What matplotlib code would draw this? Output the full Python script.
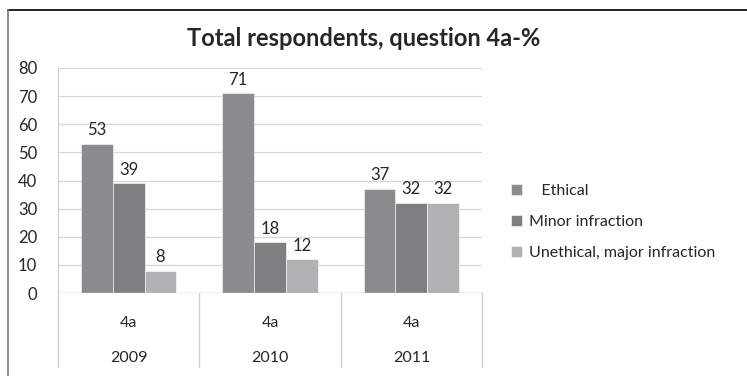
import matplotlib
matplotlib.use("Agg")
import matplotlib.pyplot as plt
import matplotlib.transforms as mtransforms
from matplotlib.lines import Line2D
import numpy as np

plt.rcParams['font.family'] = ['Lato', 'DejaVu Sans']

years = ['2009', '2010', '2011']
question = ['4a', '4a', '4a']
series_names = ['Ethical', 'Minor infraction', 'Unethical, major infraction']
ethical = [53, 71, 37]
minor = [39, 18, 32]
unethical = [8, 12, 32]
yticks = [0, 10, 20, 30, 40, 50, 60, 70, 80]

colors = ['#8b8b8e', '#7f7f82', '#b1b1b4']
text_color = '#262626'

W, H = 747, 376
fig = plt.figure(figsize=(W / 100, H / 100), dpi=100)

# outer chart frame
fig.add_artist(Line2D([8 / W, 1.0], [1 - 10 / H] * 2, color='#222222', lw=1.4,
                      transform=fig.transFigure))
fig.add_artist(Line2D([8 / W, 8 / W], [0, 1 - 10 / H], color='#7a7a7a', lw=1.2,
                      transform=fig.transFigure))

ax = fig.add_axes([58 / W, 83 / H, (482 - 58) / W, 225 / H])

x = np.arange(len(years)) + 0.5
bw = 0.225
values = [ethical, minor, unethical]
for i, (vals, c, name) in enumerate(zip(values, colors, series_names)):
    label = '   ' + name if i == 0 else name
    b = ax.bar(x + (i - 1) * bw, vals, width=bw, color=c, label=label,
               edgecolor='white', linewidth=0.4, zorder=3)
    ax.bar_label(b, labels=[str(v) for v in vals], padding=4, fontsize=12,
                 color=text_color)

ax.set_xlim(0, len(years))
ax.set_ylim(0, 80)
ax.set_yticks(yticks)
ax.tick_params(axis='y', length=0, labelsize=12, labelcolor=text_color, pad=15)
ax.set_xticks([])
ax.grid(axis='y', color='#d9d9d9', lw=1.0, zorder=0)
for s in ['top', 'right', 'bottom']:
    ax.spines[s].set_visible(False)
ax.spines['left'].set_color('#d0d0d0')
ax.axhline(0, color='#d0d0d0', lw=1.0, zorder=4)

# multi-level category axis
trans = mtransforms.blended_transform_factory(ax.transData, ax.transAxes)
for xb in range(len(years) + 1):
    ax.add_line(Line2D([xb, xb], [0, -0.33], color='#d0d0d0', lw=1.0,
                       transform=trans, clip_on=False))
for xi, q, yr in zip(x, question, years):
    ax.text(xi, -0.135, q, transform=trans, ha='center', va='center',
            fontsize=11.5, color=text_color)
    ax.text(xi, -0.29, yr, transform=trans, ha='center', va='center',
            fontsize=11.5, color=text_color)

fig.text(364 / W, 1 - 38 / H, 'Total respondents, question 4a-%', ha='center',
         va='center', fontsize=17, fontweight='bold', color=text_color)

ax.legend(loc='upper left', bbox_to_anchor=(497 / W, 1 - 170 / H),
          bbox_transform=fig.transFigure, frameon=False, fontsize=11.5,
          handlelength=0.65, handleheight=0.65, handletextpad=0.45,
          labelspacing=1.05, labelcolor=text_color)

fig.savefig('out.png', dpi=100, facecolor='white')
